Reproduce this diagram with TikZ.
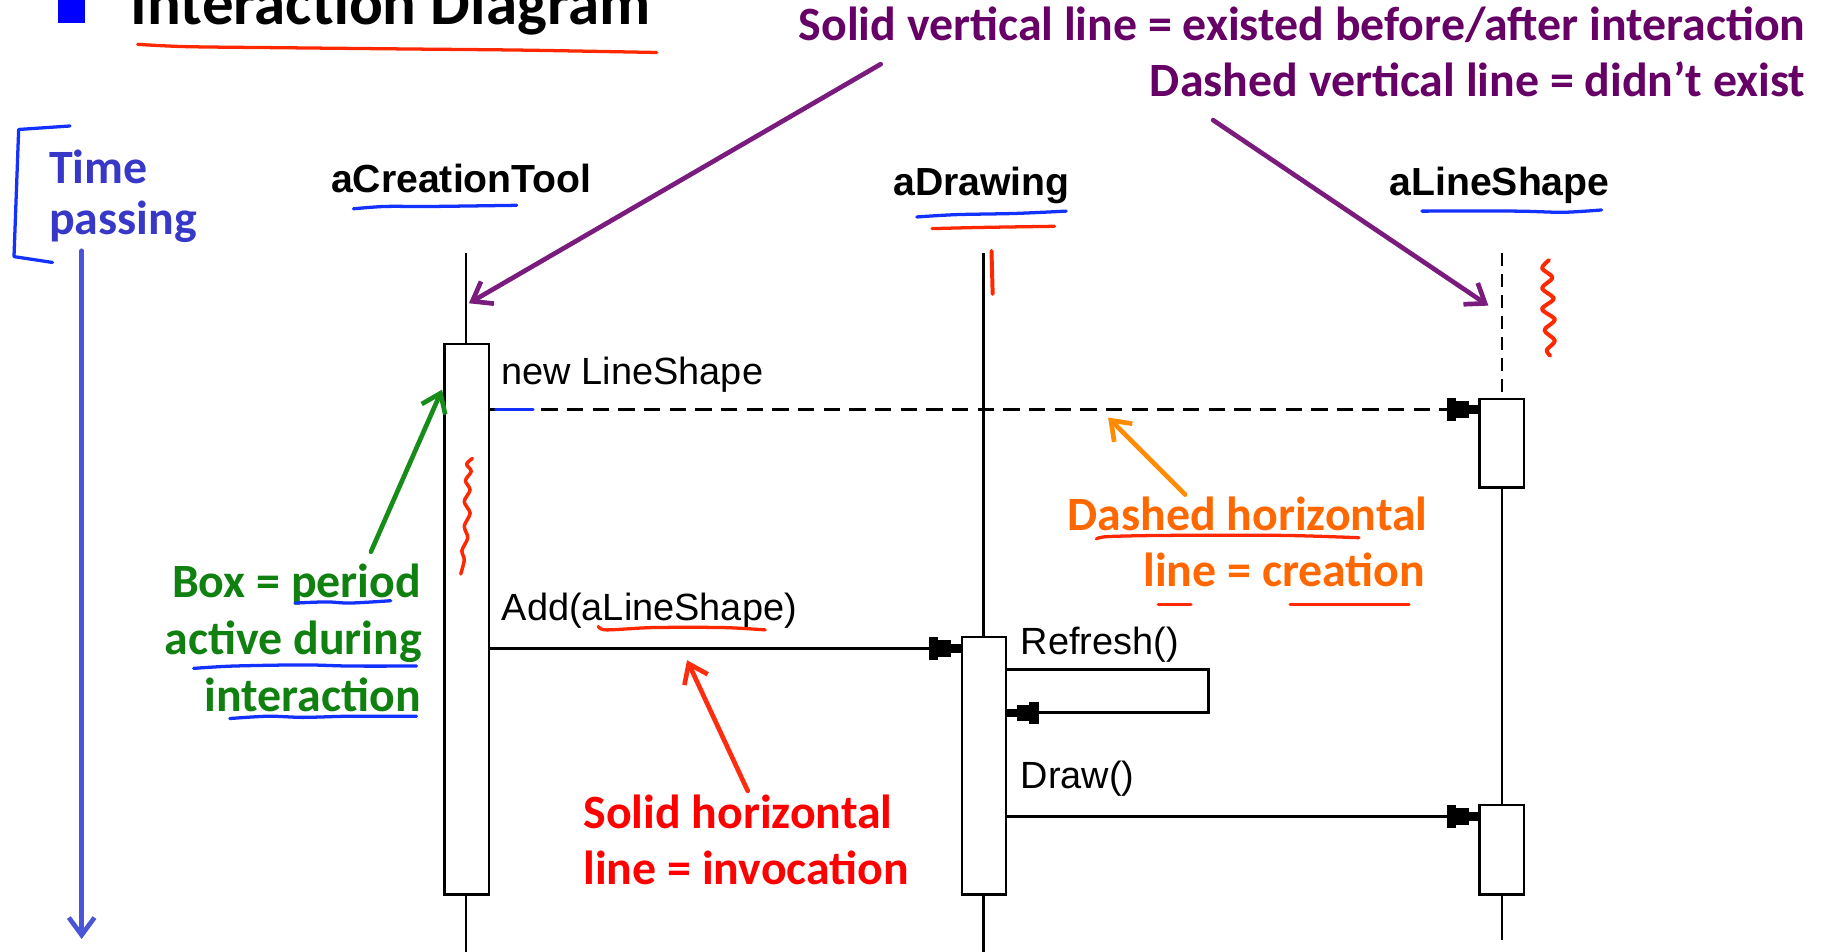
\documentclass[tikz,border=0pt]{standalone}
\usepackage{fontspec}
\setmainfont{Carlito}
\newfontfamily\umlfont{Liberation Sans}
\usetikzlibrary{arrows.meta}

\definecolor{bulletblue}{RGB}{0,0,255}
\definecolor{inkred}{RGB}{255,40,0}
\definecolor{inkblue}{RGB}{20,50,255}
\definecolor{notepurple}{RGB}{102,0,102}
\definecolor{arrowpurple}{RGB}{122,28,125}
\definecolor{notegreen}{RGB}{16,128,16}
\definecolor{arrowgreen}{RGB}{24,140,24}
\definecolor{noteorange}{RGB}{255,104,0}
\definecolor{arroworange}{RGB}{255,140,0}
\definecolor{notered}{RGB}{255,0,0}
\definecolor{arrowred}{RGB}{255,45,15}
\definecolor{timetext}{RGB}{55,55,200}
\definecolor{timearrow}{RGB}{75,85,215}

\begin{document}
\begin{tikzpicture}[x=1pt,y=-1pt,
  note/.style={font=\bfseries\fontsize{41}{49}\selectfont, inner sep=0pt},
  umlhead/.style={font=\umlfont\bfseries\fontsize{33.6}{40}\selectfont, inner sep=0pt},
  umlmsg/.style={font=\umlfont\fontsize{32.5}{39}\selectfont, inner sep=0pt},
  lifeline/.style={line width=2.1pt, black},
  activation/.style={draw, line width=2.1pt, fill=white, minimum width=38pt, inner sep=0pt},
  msgtip/.style={-{Rectangle[length=8pt,width=19pt,sep=0pt] Rectangle[length=11pt,width=14pt,sep=0pt] Rectangle[length=8pt,width=7pt,sep=0pt]}},
  msg/.style={line width=2.1pt, msgtip},
  hand/.style={line width=2.8pt, line cap=round, line join=round, draw=#1},
  pointer/.style={line width=4pt, line cap=round, draw=#1,
    -{Straight Barb[length=15pt,width=22pt,line width=4pt]}},
]
\useasboundingbox (0,0) rectangle (1568,816);
\fill[white] (0,0) rectangle (1568,816);

% ---------- title ----------
\fill[bulletblue] (50,-3) rectangle (73,20);
\node[anchor=base west, font=\bfseries\fontsize{54}{60}\selectfont, inner sep=0pt] (title) at (112,21) {Interaction Diagram};
\draw[hand=inkred] plot[smooth] coordinates {(118,38) (160,40) (250,41) (350,42) (450,43) (563,45)};

% ---------- lifeline notes ----------
\node[note, text=notepurple, anchor=base east] (solidnote) at (1548,35) {Solid vertical line = existed before/after interaction};
\node[note, text=notepurple, anchor=base east] (dashnote) at (1548,83) {Dashed vertical line = didn’t exist};

% ---------- time axis ----------
\node[note, text=timetext, anchor=base west] (time1) at (42,157) {Time};
\node[note, text=timetext, anchor=base west] (time2) at (42,201) {passing};
\draw[hand=inkblue] (60,108) -- (16,111) -- (12,220) -- (45,225);
\coordinate (tstart) at (70,215);
\coordinate (tend) at (70,805);
\draw[pointer=timearrow] (tstart) -- (tend);

% ---------- object heads ----------
\node[umlhead, anchor=base] (ct) at (395.5,165) {aCreationTool};
\node[umlhead, anchor=base] (dr) at (841.5,168) {aDrawing};
\node[umlhead, anchor=base] (ls) at (1285.5,168) {aLineShape};
\draw[hand=inkblue] plot[smooth] coordinates {(303,179) (330,177) (370,177) (443,176)};
\draw[hand=inkblue] plot[smooth] coordinates {(786,186) (820,184) (870,183) (914,181)};
\draw[hand=inkred] plot[smooth] coordinates {(799,196) (840,195) (904,194)};
\draw[hand=inkblue] plot[smooth] coordinates {(1219,181) (1300,181) (1340,182) (1373,180)};

% ---------- lifelines ----------
\coordinate (l1top) at (399.5,217);
\coordinate (l1bot) at (399.5,816);
\coordinate (l2top) at (843,217);
\coordinate (l2bot) at (843,816);
\coordinate (l3top) at (1287.5,217);
\coordinate (l3bot) at (1287.5,806);
\draw[lifeline] (l1top) -- (l1bot);
\draw[lifeline] (l2top) -- (l2bot);

% activation boxes
\node[activation, minimum height=472pt] (box1) at (400,531) {};
\node[activation, minimum height=221pt] (box2) at (843.5,656.5) {};
\node[activation, minimum height=76pt] (box3a) at (1287.5,380) {};
\node[activation, minimum height=77pt] (box3b) at (1287.5,728.5) {};

\draw[lifeline, dash pattern=on 11pt off 7pt] (l3top) -- (box3a.north);
\draw[lifeline] (box3a.south) -- (box3b.north);
\draw[lifeline] (box3b.south) -- (l3bot);

% ---------- messages ----------
\coordinate (ynew) at (0,351);
\coordinate (yadd) at (0,556);
\coordinate (ydraw) at (0,700);
\coordinate (rfa) at (1036,574);
\coordinate (rfb) at (1036,611);

\node[umlmsg, anchor=base west] (newlbl) at (430,330) {new LineShape};
\draw[msg, dash pattern=on 14pt off 8pt] (box1.east |- ynew) -- (box3a.west |- ynew);

\node[umlmsg, anchor=base west] (addlbl) at (430,532) {Add(aLineShape)};
\draw[msg] (box1.east |- yadd) -- (box2.west |- yadd);

\node[umlmsg, anchor=base west] (reflbl) at (875,561) {Refresh()};
\draw[msg] (box2.east |- rfa) -- (rfa) -- (rfb) -- (box2.east |- rfb);

\node[umlmsg, anchor=base west] (drawlbl) at (875,676) {Draw()};
\draw[msg] (box2.east |- ydraw) -- (box3b.west |- ydraw);

% ---------- ink marks on the diagram ----------
\draw[hand=inkblue] (425,351) -- (457,351);
\draw[hand=inkred] plot[smooth] coordinates {(513,537) (520,540) (560,538) (620,538) (656,540)};
\draw[hand=inkred, line width=3.4pt] (850,215) -- (851,252);
\draw[hand=inkred, line width=3pt] plot[smooth] coordinates {(405,393) (400,398) (404,404) (399,412) (403,420) (398,430) (403,440) (398,451) (401,461) (396,472) (398,480) (395,492)};
\draw[hand=inkred, line width=3.4pt] plot[smooth] coordinates {(1328,223) (1322,230) (1331,238) (1322,247) (1332,256) (1322,265) (1333,274) (1324,283) (1333,292) (1326,300) (1329,305)};

% ---------- purple pointers ----------
\coordinate (pa1s) at (755,55);
\coordinate (pa1e) at (402,260);
\coordinate (pa2s) at (1040,103);
\coordinate (pa2e) at (1276,262);
\draw[pointer=arrowpurple] (pa1s) -- (pa1e);
\draw[pointer=arrowpurple] (pa2s) -- (pa2e);

% ---------- box note ----------
\node[note, text=notegreen, anchor=base east] (box1n) at (361,512) {Box = period};
\node[note, text=notegreen, anchor=base east] (box2n) at (362,561) {active during};
\node[note, text=notegreen, anchor=base east] (box3n) at (361,610) {interaction};
\draw[hand=inkblue] plot[smooth] coordinates {(253,517) (280,516) (300,517) (335,515)};
\draw[hand=inkblue] plot[smooth] coordinates {(166,573) (200,571) (260,570) (300,571) (357,571)};
\draw[hand=inkblue] plot[smooth] coordinates {(197,616) (230,614) (260,615) (300,614) (357,614)};
\coordinate (gas) at (318,473);
\coordinate (gae) at (379,334);
\draw[pointer=arrowgreen] (gas) -- (gae);

% ---------- creation note ----------
\node[note, text=noteorange, anchor=base east] (cre1) at (1224,455) {Dashed horizontal};
\node[note, text=noteorange, anchor=base east] (cre2) at (1222,503) {line = creation};
\draw[hand=inkred] plot[smooth] coordinates {(940,462) (950,460) (1000,459) (1100,459) (1165,461)};
\draw[hand=inkred] (993,518) -- (1021,518);
\draw[hand=inkred] (1106,518) -- (1208,518);
\coordinate (oas) at (1016,424);
\coordinate (oae) at (950,358);
\draw[pointer=arroworange] (oas) -- (oae);

% ---------- invocation note ----------
\node[note, text=notered, anchor=base west] (inv1) at (500,710) {Solid horizontal};
\node[note, text=notered, anchor=base west] (inv2) at (500,758) {line = invocation};
\coordinate (ras) at (641,678);
\coordinate (rae) at (589,566);
\draw[pointer=arrowred] (ras) -- (rae);

\end{tikzpicture}
\end{document}
